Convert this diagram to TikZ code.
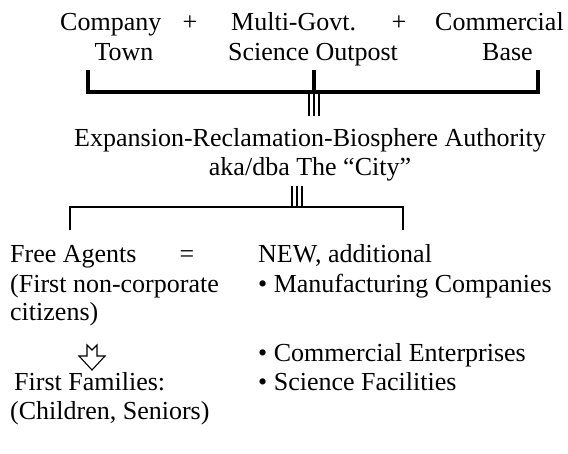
\documentclass[tikz,border=0pt]{standalone}
\usepackage{fontspec}
\setmainfont{Liberation Serif}
\tikzset{
  txt/.style={inner sep=0pt, anchor=base west, font=\fontsize{26}{28.5}\selectfont},
  thickbar/.style={line width=3.5pt, line join=miter},
  thinbar/.style={line width=2pt, line join=miter},
  tri/.style={line width=1.4pt},
  blockarrow/.style={line width=1.1pt, line join=miter, fill=white}
}
\begin{document}
\begin{tikzpicture}[x=1pt,y=-1pt]
\useasboundingbox (0,0) rectangle (568,453);
% row 1
\node[txt] (company) at (60,30) {Company};
\node[txt, anchor=base] (town) at (124,60) {Town};
\node[txt, anchor=base] (plus1) at (190,30) {+};
\node[txt] (multi) at (231,30) {Multi-Govt.};
\node[txt] (science) at (228,60) {Science Outpost};
\node[txt, anchor=base] (plus2) at (399,30) {+};
\node[txt] (commercial) at (435,30) {Commercial};
\node[txt] (base) at (482,60) {Base};
% bracket 1
\coordinate (b1l) at (88,70);
\coordinate (b1lb) at (88,92);
\coordinate (b1r) at (538,70);
\coordinate (b1rb) at (538,92);
\coordinate (b1c) at (314,70);
\coordinate (b1cb) at (314,92);
\draw[thickbar] (b1l) -- (b1lb) -- (b1rb) -- (b1r);
\draw[thickbar] (b1c) -- (b1cb);
\foreach \x in {309,314,319} \draw[tri] (\x,92) -- (\x,116);
% authority
\node[txt, anchor=base] (era) at (310,146) {Expansion-Reclamation-Biosphere Authority};
\node[txt, anchor=base] (aka) at (310,175) {aka/dba The “City”};
% bracket 2
\foreach \x in {292,297,302} \draw[tri] (\x,186) -- (\x,207);
\coordinate (b2l) at (70,230);
\coordinate (b2lt) at (70,207);
\coordinate (b2r) at (403,230);
\coordinate (b2rt) at (403,207);
\draw[thinbar] (b2l) -- (b2lt) -- (b2rt) -- (b2r);
% left column
\node[txt] (free) at (10,262) {Free Agents};
\node[txt, anchor=base] (eq) at (187,262) {=};
\node[txt] (first) at (10,292) {(First non-corporate};
\node[txt] (cit) at (10,320) {citizens)};
\node[txt] (ff) at (14,390) {First Families:};
\node[txt] (cs) at (10,419) {(Children, Seniors)};
% right column
\node[txt] (new) at (258,262) {NEW, additional};
\node[txt] (manu) at (258,292) {• Manufacturing Companies};
\node[txt] (ce) at (258,361) {• Commercial Enterprises};
\node[txt] (sf) at (258,390) {• Science Facilities};
% block arrow
\begin{scope}[shift={(92,345)}]
\draw[blockarrow] (-5,0) -- (0,5) -- (5,0) -- (5,11) -- (13,11) -- (0,25) -- (-13,11) -- (-5,11) -- cycle;
\end{scope}
\end{tikzpicture}
\end{document}
